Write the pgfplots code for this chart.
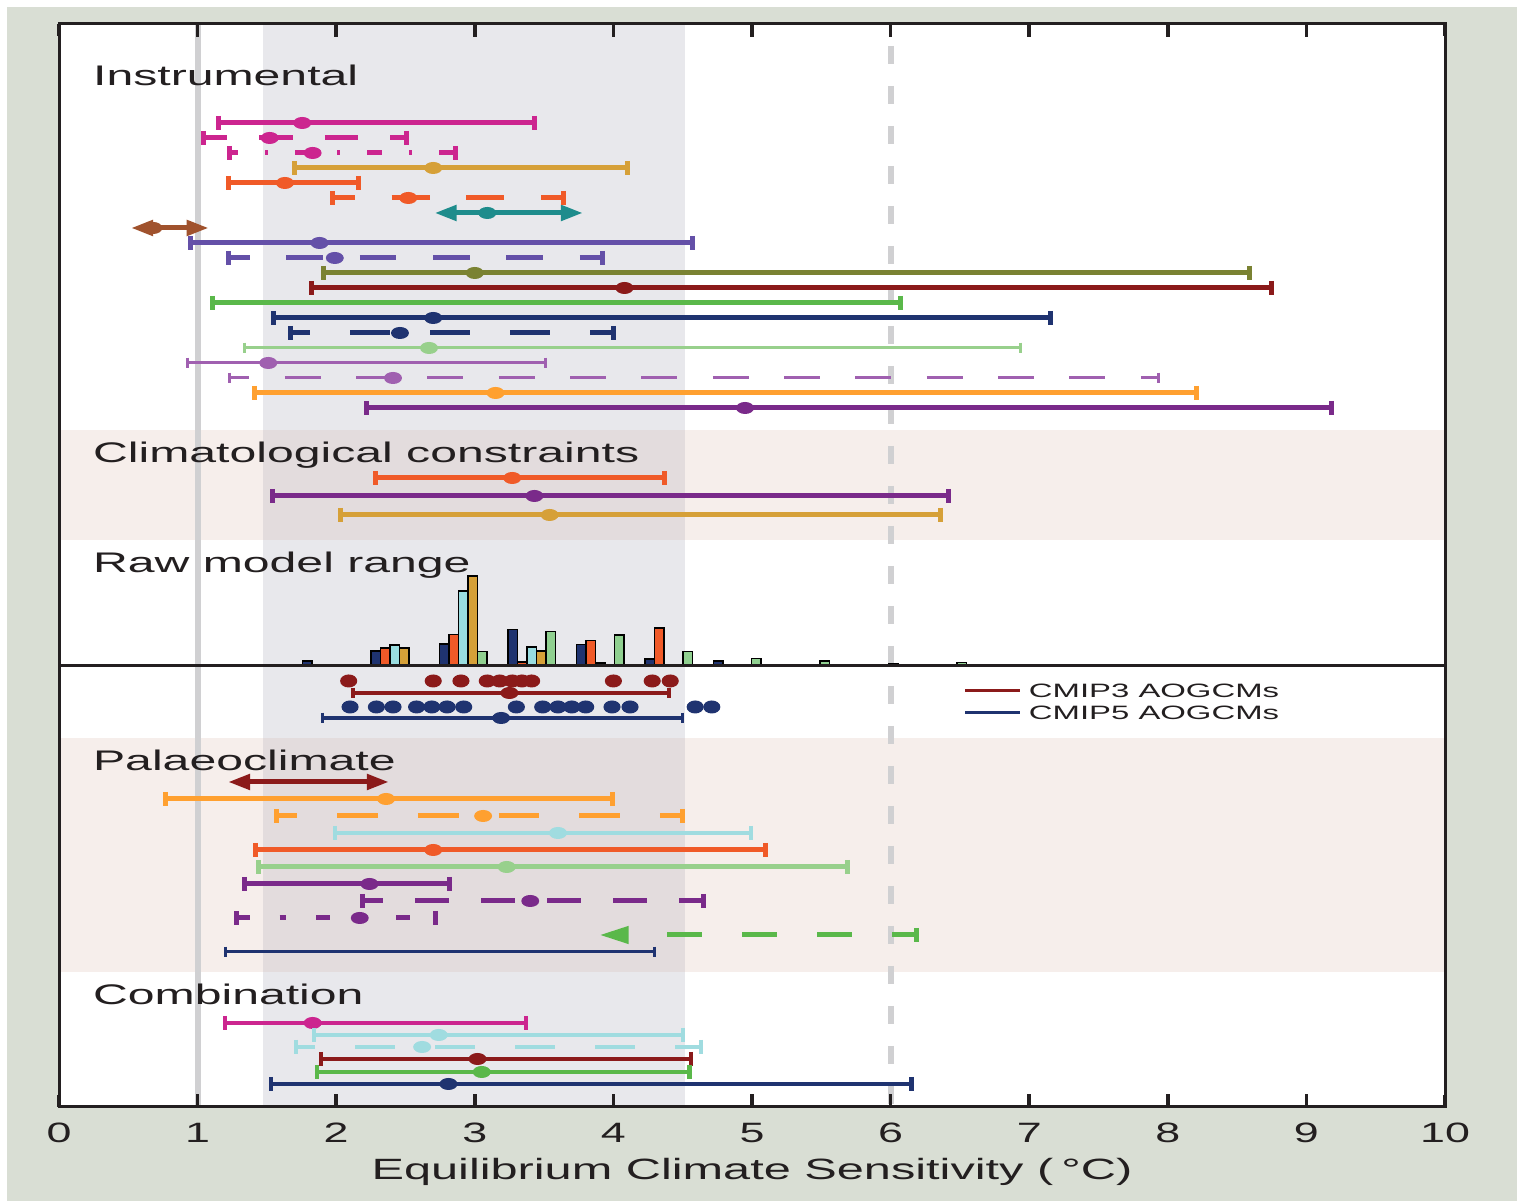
\documentclass[border=0pt]{standalone}
\usepackage{fontspec}
\setmainfont{Liberation Sans}
\usepackage{pgfplots}
\pgfplotsset{compat=1.18}
\usetikzlibrary{arrows.meta}

\definecolor{outerbg}{RGB}{217,222,212}
\definecolor{pinkband}{RGB}{246,238,235}
\definecolor{grayband}{RGB}{232,232,236}
\definecolor{overlap}{RGB}{227,220,221}
\definecolor{vline}{RGB}{208,208,210}
\definecolor{textc}{RGB}{35,31,32}
\definecolor{mag}{RGB}{204,37,143}
\definecolor{gold}{RGB}{214,160,56}
\definecolor{orred}{RGB}{240,90,40}
\definecolor{teal}{RGB}{30,140,140}
\definecolor{brown}{RGB}{160,82,45}
\definecolor{slate}{RGB}{100,80,168}
\definecolor{olive}{RGB}{122,130,50}
\definecolor{dred}{RGB}{139,26,26}
\definecolor{green}{RGB}{90,184,74}
\definecolor{navy}{RGB}{31,51,112}
\definecolor{lgreen}{RGB}{152,208,140}
\definecolor{mpurple}{RGB}{160,96,176}
\definecolor{orange}{RGB}{255,160,48}
\definecolor{purple}{RGB}{122,42,138}
\definecolor{lcyan}{RGB}{160,220,224}
\definecolor{barcyan}{RGB}{153,221,224}
\definecolor{bargreen}{RGB}{144,208,144}

% #1 extra style, #2 colour, #3 y, #4 low, #5 best, #6 high
\newcommand\rng[6][]{%
  \addplot[color=#2, line width=1.5pt, mark=|, mark size=2.1pt, mark options={solid}, #1] coordinates {(#4,#3) (#6,#3)};
  \addplot[color=#2, only marks, mark=*, mark size=1.6pt, mark options={solid, xscale=1.55}] coordinates {(#5,#3)};
}
% range without best estimate
\newcommand\rngnd[5][]{%
  \addplot[color=#2, line width=1.5pt, mark=|, mark size=2.1pt, mark options={solid}, #1] coordinates {(#4,#3) (#5,#3)};
}
\tikzset{
  ttl/.style={anchor=base west, text=textc, font=\fontsize{8.5}{10}\selectfont, xscale=1.7, inner sep=0pt},
  leg/.style={anchor=west, text=textc, font=\fontsize{5.8}{7}\selectfont, xscale=1.7, inner sep=0pt},
  tri/.style={arrows={Triangle[length=6.6pt,width=4.5pt]-Triangle[length=6.6pt,width=4.5pt]}}
}

\begin{document}
\begin{tikzpicture}
\fill[outerbg] (-17.7pt,-28.2pt) rectangle (437.4pt,332.1pt);
\fill[white] (-17.7pt,330pt) rectangle (437.4pt,332.1pt);
\fill[white] (-17.7pt,-28.2pt) rectangle (-15.6pt,332.1pt);

\begin{axis}[
  scale only axis, width=415.8pt, height=324.9pt,
  xmin=0, xmax=10, ymin=0, ymax=1083,
  xtick={0,1,2,3,4,5,6,7,8,9,10}, ytick=\empty,
  xtick pos=both, xtick align=inside,
  major tick length=3.6pt,
  every major tick/.append style={draw=textc, line width=1pt},
  axis line style={line width=0.9pt, textc},
  xticklabel style={font=\fontsize{8.4}{10}\selectfont, text=textc, xscale=1.6, yshift=-1.2pt},
  /pgf/number format/assume math mode=true,
  axis background/.style={fill=white},
  axis on top,
]
 \fill[pinkband] (axis cs:0,567) rectangle (axis cs:10,677);
 \fill[pinkband] (axis cs:0,135) rectangle (axis cs:10,369);
 \fill[grayband] (axis cs:1.475,0) rectangle (axis cs:4.52,1083);
 \fill[overlap] (axis cs:1.475,567) rectangle (axis cs:4.52,677);
 \fill[overlap] (axis cs:1.475,135) rectangle (axis cs:4.52,369);
 \draw[vline, line width=1.8pt] (axis cs:1,0) -- (axis cs:1,1083);
 \draw[vline, line width=1.8pt, dash pattern=on 5.4pt off 6.6pt, dash phase=5.4pt] (axis cs:6,1083) -- (axis cs:6,0);

 % Instrumental
 \rng{mag}{984}{1.15}{1.755}{3.43}
 \rng[dash pattern=on 10pt off 9.6pt, dash phase=2.7pt]{mag}{969}{1.04}{1.52}{2.51}
 \rng[dash pattern=on 4.5pt off 8.1pt on 0.9pt off 8.1pt, dash phase=1.8pt]{mag}{954}{1.23}{1.83}{2.86}
 \rng{gold}{939}{1.70}{2.70}{4.10}
 \rng{orred}{924}{1.22}{1.63}{2.16}
 \rng[dash pattern=on 11.4pt off 11pt, dash phase=4.5pt]{orred}{909}{1.97}{2.52}{3.64}
 \addplot[teal, line width=1.5pt, tri] coordinates {(2.71,894) (3.78,894)};
 \addplot[teal, only marks, mark=*, mark size=1.6pt, mark options={xscale=1.55}] coordinates {(3.09,894)};
 \addplot[brown, line width=1.5pt, tri] coordinates {(0.52,879) (1.08,879)};
 \addplot[brown, only marks, mark=*, mark size=1.6pt, mark options={xscale=1.55}] coordinates {(0.68,879)};
 \rng{slate}{864}{0.95}{1.88}{4.57}
 \rng[dash pattern=on 11pt off 11pt, dash phase=4.5pt]{slate}{849}{1.22}{1.99}{3.92}
 \rng{olive}{834}{1.91}{3.00}{8.59}
 \rng{dred}{819}{1.82}{4.08}{8.75}
 \rngnd{green}{804}{1.11}{6.07}
 \rng{navy}{789}{1.55}{2.70}{7.15}
 \rng[dash pattern=on 12pt off 12pt, dash phase=6pt]{navy}{774}{1.67}{2.46}{4.00}
 \rng[line width=0.9pt, mark size=1.6pt]{lgreen}{759}{1.34}{2.67}{6.94}
 \rng[line width=0.9pt, mark size=1.6pt]{mpurple}{744}{0.93}{1.51}{3.51}
 \rng[line width=0.9pt, mark size=1.6pt, dash pattern=on 10.8pt off 10.6pt, dash phase=4.8pt]{mpurple}{729}{1.23}{2.41}{7.93}
 \rng{orange}{714}{1.41}{3.15}{8.21}
 \rng{purple}{699}{2.22}{4.95}{9.18}

 % Climatological constraints
 \rng{orred}{629}{2.28}{3.27}{4.37}
 \rng{purple}{611}{1.54}{3.43}{6.42}
 \rng{gold}{592}{2.03}{3.54}{6.36}

 % CMIP3 / CMIP5
 \addplot[dred, only marks, mark=*, mark size=1.75pt, mark options={xscale=1.35}] coordinates {
  (2.09,426) (2.70,426) (2.90,426) (3.09,426) (3.18,426) (3.27,426) (3.34,426) (3.41,426) (4.00,426) (4.28,426) (4.41,426)};
 \rng[line width=1pt, mark size=1.6pt]{dred}{414}{2.12}{3.25}{4.40}
 \addplot[navy, only marks, mark=*, mark size=1.75pt, mark options={xscale=1.35}] coordinates {
  (2.10,400) (2.29,400) (2.41,400) (2.58,400) (2.69,400) (2.80,400) (2.92,400) (3.30,400) (3.49,400) (3.60,400) (3.70,400) (3.80,400) (3.99,400) (4.12,400) (4.59,400) (4.71,400)};
 \rng[line width=1pt, mark size=1.6pt]{navy}{389}{1.90}{3.19}{4.50}
 \draw[dred, line width=0.9pt] (axis cs:6.54,416) -- (axis cs:6.93,416);
 \draw[navy, line width=0.9pt] (axis cs:6.54,394) -- (axis cs:6.93,394);
 \node[leg] at (axis cs:6.99,416) {CMIP3 AOGCMs};
 \node[leg] at (axis cs:6.99,394) {CMIP5 AOGCMs};

 % Palaeoclimate
 \addplot[dred, line width=1.5pt, tri] coordinates {(1.22,325) (2.38,325)};
 \rng{orange}{308}{0.77}{2.36}{3.99}
 \rng[dash pattern=on 12.2pt off 12pt, dash phase=6pt]{orange}{291}{1.57}{3.06}{4.50}
 \rng[line width=1.2pt]{lcyan}{274}{1.99}{3.60}{4.99}
 \rng{orred}{257}{1.42}{2.70}{5.10}
 \rng{lgreen}{240}{1.44}{3.23}{5.69}
 \rng{purple}{223}{1.34}{2.24}{2.82}
 \rng[dash pattern=on 10pt off 9.8pt, dash phase=4pt]{purple}{206}{2.19}{3.40}{4.65}
 \rng[dash pattern=on 4pt off 9pt on 2pt off 9pt]{purple}{189}{1.28}{2.17}{2.72}
 \addplot[green, line width=1.5pt, dash pattern=on 10.5pt off 12pt, dash phase=10.5pt,
   arrows={Triangle[length=8.7pt,width=5pt]-}, mark=|, mark indices={2}, mark size=2.1pt, mark options={solid}]
   coordinates {(3.90,172) (6.19,172)};
 \rngnd[line width=0.9pt, mark size=1.6pt]{navy}{155}{1.20}{4.30}

 % Combination
 \rng[line width=1.3pt]{mag}{84}{1.20}{1.83}{3.37}
 \rng[line width=1.3pt]{lcyan}{72}{1.84}{2.74}{4.50}
 \rng[line width=1.3pt, dash pattern=on 12pt off 12pt, dash phase=6.3pt]{lcyan}{60}{1.71}{2.62}{4.63}
 \rng[line width=1.3pt]{dred}{48}{1.89}{3.02}{4.56}
 \rng[line width=1.3pt]{green}{35}{1.86}{3.05}{4.55}
 \rng[line width=1.3pt]{navy}{23}{1.53}{2.81}{6.15}

 % section titles
 \node[ttl] at (axis cs:0.238,1021) {Instrumental};
 \node[ttl] at (axis cs:0.238,644) {Climatological constraints};
 \node[ttl] at (axis cs:0.238,534) {Raw model range};
 \node[ttl] at (axis cs:0.238,336) {Palaeoclimate};
 \node[ttl] at (axis cs:0.238,102) {Combination};
\end{axis}

% histogram of model sensitivities
\begin{axis}[
  at={(0pt,132.3pt)}, anchor=south west,
  scale only axis, width=415.8pt, height=30pt,
  xmin=0, xmax=10, ymin=0, ymax=100,
  hide axis, clip=false,
]
 \addplot[ybar, bar width=0.0685, bar shift=-0.137, fill=navy, draw=black, line width=0.4pt]
   coordinates {(1.928,5) (2.422,15) (2.917,22) (3.411,36.5) (3.905,21.5) (4.399,7) (4.894,5)};
 \addplot[ybar, bar width=0.0685, bar shift=-0.0685, fill=orred, draw=black, line width=0.4pt]
   coordinates {(2.422,18) (2.917,31.5) (3.411,4) (3.905,25.5) (4.399,38)};
 \addplot[ybar, bar width=0.0685, bar shift=0, fill=barcyan, draw=black, line width=0.4pt]
   coordinates {(2.422,21) (2.917,75) (3.411,19) (3.905,3)};
 \addplot[ybar, bar width=0.0685, bar shift=0.0685, fill=gold, draw=black, line width=0.4pt]
   coordinates {(2.422,18) (2.917,90) (3.411,15)};
 \addplot[ybar, bar width=0.0685, bar shift=0.137, fill=bargreen, draw=black, line width=0.4pt]
   coordinates {(2.422,1.5) (2.917,14.5) (3.411,34.5) (3.905,31) (4.399,14.5) (4.894,7.4) (5.388,5) (5.882,2.5) (6.376,3.4) (6.871,1)};
 \draw[textc, line width=0.9pt] (axis cs:0,0) -- (axis cs:10,0);
\end{axis}

% inward tick marks on the bottom and top edges (axis spans 0..415.8pt x 0..324.9pt)
\foreach \k in {1,...,9} {
  \fill[textc] ({\k*41.58pt-0.55pt},0pt) rectangle ({\k*41.58pt+0.55pt},3.8pt);
  \fill[textc] ({\k*41.58pt-0.55pt},324.9pt) rectangle ({\k*41.58pt+0.55pt},321.1pt);
}

\node[anchor=base, text=textc, font=\fontsize{8.8}{10}\selectfont, xscale=1.66] at (207.9pt,-21.9pt)
  {Equilibrium Climate Sensitivity (\,°C)};

\pgfresetboundingbox
\path (-17.7pt,-28.2pt) rectangle (437.4pt,332.1pt);
\end{tikzpicture}
\end{document}
